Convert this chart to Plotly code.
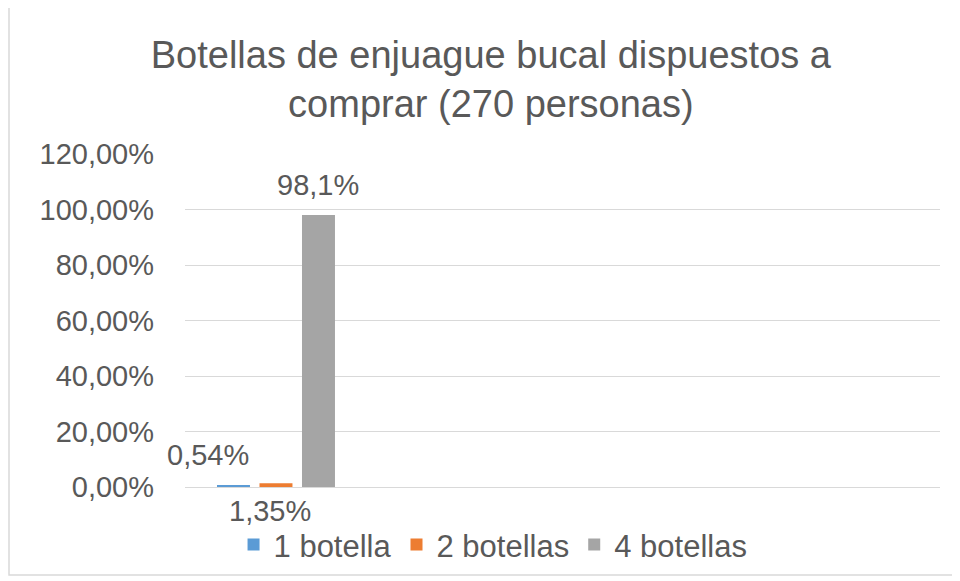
import plotly.graph_objects as go

# ---- data ----
series_names = ["1 botella", "2 botellas", "4 botellas"]
series_values = [0.0054, 0.0135, 0.981]
series_labels = ["0,54%", "1,35%", "98,1%"]
series_colors = ["#5B9BD5", "#ED7D31", "#A5A5A5"]
category = [0]
y_ticks = [0, 0.2, 0.4, 0.6, 0.8, 1.0, 1.2]

TXT = "#595959"
FONT = "Liberation Sans, Arial, sans-serif"

fig = go.Figure()
for name, val, col in zip(series_names, series_values, series_colors):
    fig.add_trace(go.Bar(x=category, y=[val], name=name, marker_color=col,
                         marker_line_width=0))

# data labels placed like the original (offsets in pixels from the data point)
label_shifts = [(-68, 31), (-6, -28), (42, 30)]
for val, lab, (dx, dy) in zip(series_values, series_labels, label_shifts):
    fig.add_annotation(x=category[0], y=val, text=lab, showarrow=False,
                       xshift=dx, yshift=dy,
                       font=dict(size=29, color=TXT, family=FONT))

# outer chart border
fig.add_shape(type="rect", xref="paper", yref="paper",
              x0=-0.2331, x1=1.0199, y0=-0.2643, y1=1.4414,
              line=dict(color="#D9D9D9", width=1.5), fillcolor="rgba(0,0,0,0)")

fig.update_layout(
    width=960, height=581,
    margin=dict(l=177, r=28, t=146, b=102),
    paper_bgcolor="white", plot_bgcolor="white",
    separators=",.",
    barmode="group", bargap=0.3245, bargroupgap=0.224,
    font=dict(family=FONT, color=TXT),
    title=dict(text="Botellas de enjuague bucal dispuestos a<br>comprar (270 personas)",
               x=0.503, xanchor="center", y=1 - 60 / 581, yanchor="top",
               yref="container",
               font=dict(size=38, color=TXT, family=FONT)),
    showlegend=True,
    legend=dict(orientation="h", x=0.408, xanchor="center", y=-0.174, yanchor="middle",
                font=dict(size=31, color=TXT, family=FONT),
                itemwidth=30, traceorder="normal"),
    xaxis=dict(range=[-0.482, 3.518], showticklabels=False, showgrid=False,
               zeroline=False, showline=True, linecolor="#D9D9D9", linewidth=1,
               fixedrange=True),
    yaxis=dict(range=[0, 1.2005], tickvals=y_ticks, tickformat=".2%",
               showgrid=True, gridcolor="#D9D9D9", gridwidth=1,
               zeroline=False, showline=False, ticks="",
               ticklabelstandoff=30,
               tickfont=dict(size=29, color=TXT, family=FONT)),
)

fig.write_html("out.html")
